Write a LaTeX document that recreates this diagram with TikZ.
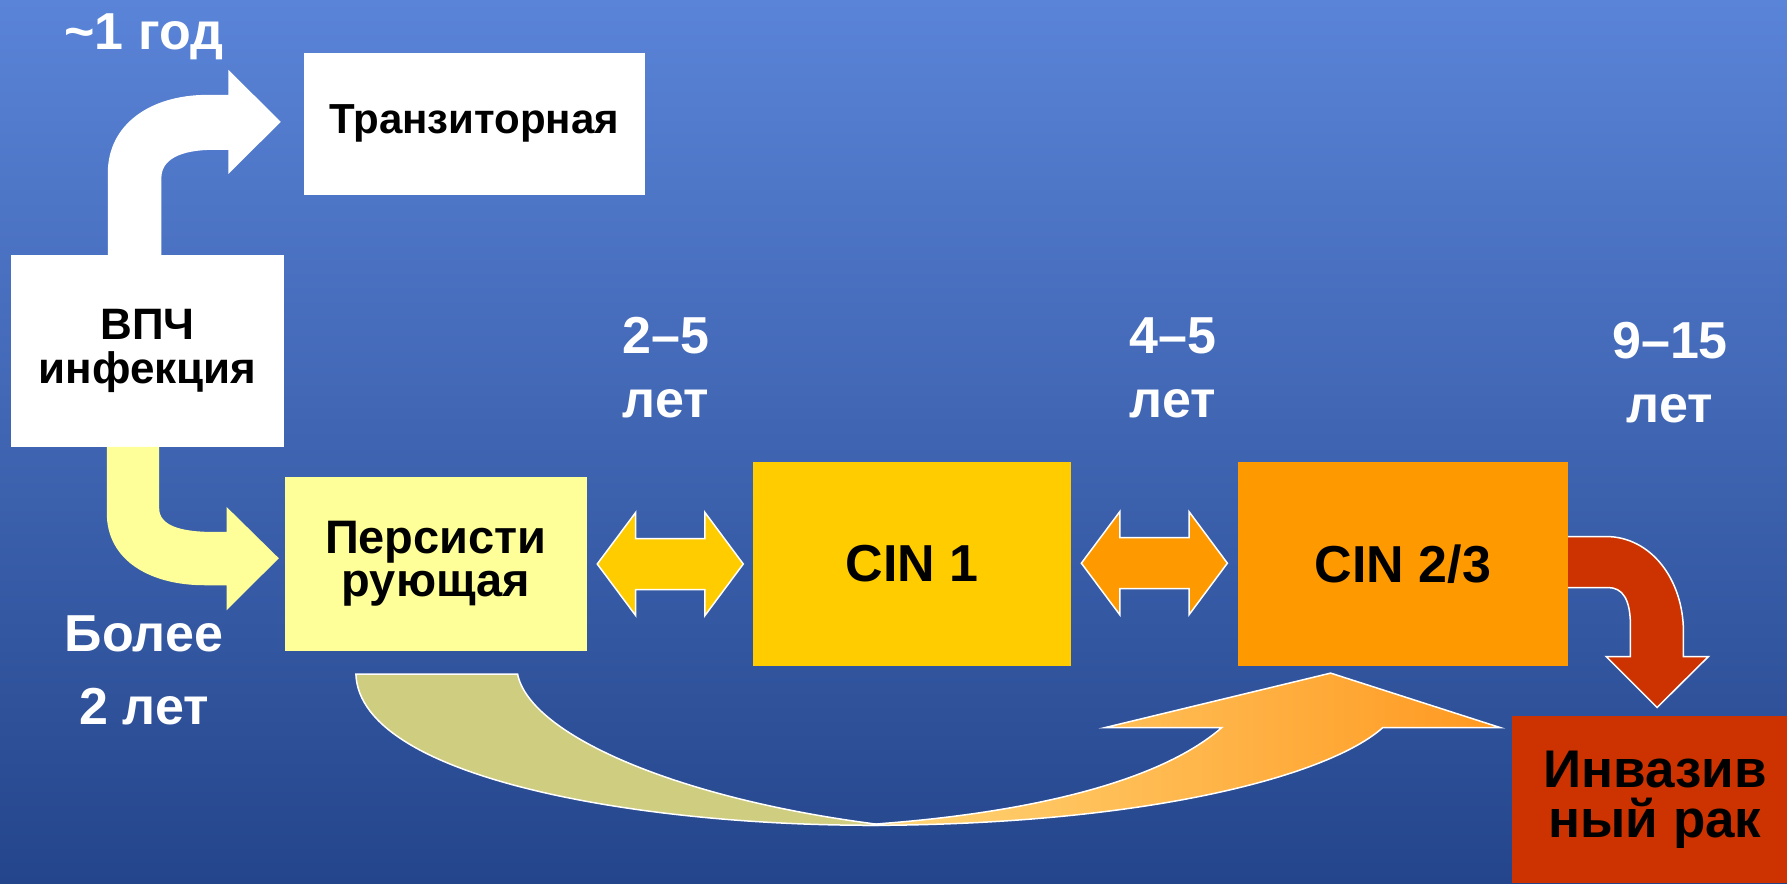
\documentclass[tikz,border=0pt]{standalone}
\usepackage{fontspec}
\setmainfont{Liberation Sans}
\usetikzlibrary{positioning,calc,backgrounds}
\definecolor{bgtop}{HTML}{5A84D8}
\definecolor{bgbot}{HTML}{24458B}
\definecolor{paleyel}{HTML}{FFFF99}
\definecolor{gold}{HTML}{FFCC00}
\definecolor{amber}{HTML}{FF9900}
\definecolor{rust}{HTML}{CC3300}
\definecolor{sage}{HTML}{CFCD7F}
\definecolor{peachL}{HTML}{FFD77A}
\definecolor{peachR}{HTML}{FF981F}
\newcommand{\fs}[2]{\bfseries\fontsize{#1}{#2}\selectfont}

\begin{document}
\begin{tikzpicture}[x=1pt, y=-1pt,
  box/.style={inner sep=0pt, align=center, text=black},
  lab/.style={inner sep=0pt, align=center, text=white, font=\fs{52}{64}},
  flow/.style={draw=white, line width=1.5pt, line join=miter}]
\useasboundingbox (0,0) rectangle (1787,883);

% stages
\node[box, fill=white, minimum width=341.4pt, minimum height=142.3pt, font=\fs{42}{46}] (trans) at (474.3,123.9) {Транзиторная};
\node[box, fill=white, minimum width=273.4pt, minimum height=191.7pt, font=\fs{44}{44}] (vpch) at (147.7,350.9) {ВПЧ\\инфекция};
\node[box, fill=paleyel, minimum width=301.7pt, minimum height=174pt, font=\fs{47}{43.3}] (pers) at (435.9,563.7) {Персисти\\рующая};
\node[box, fill=gold, minimum width=318pt, minimum height=204.4pt, font=\fs{52}{60}, right=166pt of pers] (cin1) {CIN 1};
\node[box, fill=amber, minimum width=330.7pt, minimum height=204.4pt, font=\fs{52}{60}, right=166pt of cin1] (cin23) {CIN 2/3};
\node[box, fill=rust, minimum width=286pt, minimum height=167pt, font=\fs{53}{50}] (rak) at (1655,799.5) {Инвазив\\ный рак};

% durations
\node[lab, anchor=base] (t1) at (144,50) {\textasciitilde1 год};
\node[lab, font=\fs{52}{73}] (t2) at (144,670) {Более\\2 лет};
\node[lab] (t25) at (666,367.9) {2–5\\лет};
\node[lab] (t45) at (1173,367.9) {4–5\\лет};
\node[lab] (t915) at (1670,372.4) {9–15\\лет};

% background, and the arrow that runs under CIN 2/3
\begin{scope}[on background layer]
\shade[top color=bgtop, bottom color=bgbot] (0,0) rectangle (1787,883);
\draw[flow, fill=rust] ($(cin23.east)+(-10,-27.2)$) -- ++(47.3,0)
  .. controls +(45,0) and +(0,-53) .. ++(77.7,95.7) -- ++(0,24.3) -- ++(25,0)
  -- ++(-51.4,51) -- ++(-51,-51) -- ++(24.4,0) -- ++(0,-30.3)
  .. controls +(0,-27) and +(15,0) .. ++(-22.7,-38.7) -- ++(-49.3,0) -- cycle;
\end{scope}

% bent arrows out of the infection box
\fill[white] ($(vpch.north west)+(97,0)$) -- ++(0,-82)
  .. controls +(0,-48) and +(-57.6,0) .. ++(99.6,-78) -- ++(21,0) -- ++(0,-25)
  -- ++(52.4,52) -- ++(-52.4,52) -- ++(0,-24) -- ++(-14.6,0)
  .. controls +(-34,0) and +(0,-18) .. ++(-52.4,28) -- ++(0,77) -- cycle;
\fill[paleyel] ($(vpch.south west)+(96,0)$) -- ++(0,66.3)
  .. controls +(0,47) and +(-55,0) .. ++(98,72) -- ++(21.8,0) -- ++(0,25)
  -- ++(52.2,-52) -- ++(-52.2,-51.3) -- ++(0,25) -- ++(-12.8,0)
  .. controls +(-34,0) and +(0,17) .. ++(-54.6,-23.7) -- ++(0,-61.3) -- cycle;

% two-way arrows between the stages
\draw[flow, fill=gold] ($(pers.east)+(10.3,0.3)$) -- ++(38.4,-51.5) -- ++(0,26) -- ++(69.3,0)
  -- ++(0,-26) -- ++(38.3,51.5) -- ++(-38.3,51.5) -- ++(0,-26) -- ++(-69.3,0) -- ++(0,26) -- cycle;
\draw[flow, fill=amber] ($(cin1.east)+(10,-0.5)$) -- ++(38.4,-51.5) -- ++(0,26) -- ++(69.3,0)
  -- ++(0,-26) -- ++(38.3,51.5) -- ++(-38.3,51.5) -- ++(0,-26) -- ++(-69.3,0) -- ++(0,26) -- cycle;

% long way round: persistent straight to CIN 2/3
\draw[flow, left color=peachL, right color=peachR] ($(cin23.south)+(-72.3,7)$) -- ++(170,54.6) -- ++(-118,0)
  .. controls +(-52,46.7) and +(288,0) .. ++(-520,97.7) -- ++(21,-2)
  .. controls +(117,-9) and +(-71,61.7) .. ++(338,-95.7) -- ++(-117,0) -- cycle;
\draw[flow, fill=sage] ($(pers.south)+(-80,23.3)$) -- ++(161.7,0)
  .. controls +(12.3,61) and +(-205,-25) .. ++(367.3,151)
  .. controls +(-235,2) and +(4,106) .. ++(-529,-151) -- cycle;
\end{tikzpicture}
\end{document}
